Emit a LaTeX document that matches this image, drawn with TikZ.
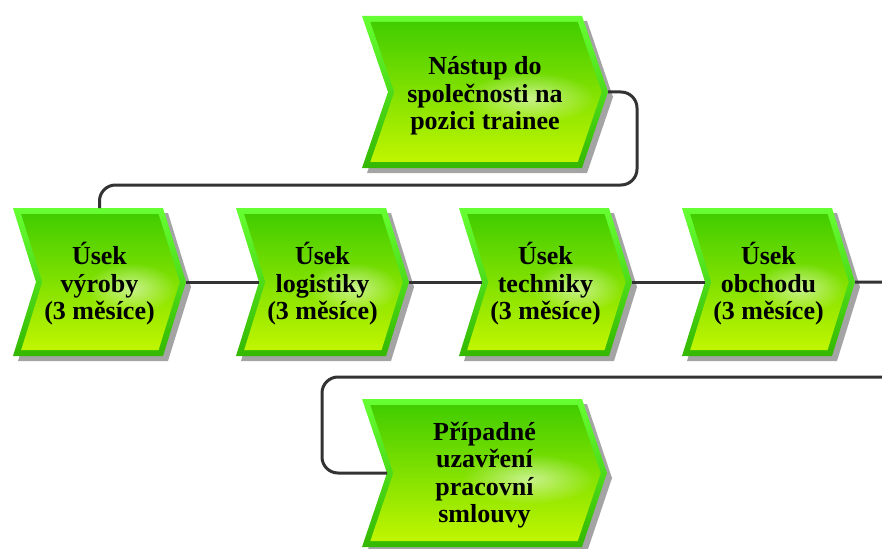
\documentclass[tikz,border=0pt]{standalone}
\usepackage{fontspec}
\setmainfont{Liberation Serif}
\usetikzlibrary{fadings}
\tikzfading[name=glowfade, inner color=transparent!0, outer color=transparent!100]
\definecolor{conncol}{HTML}{333333}
\definecolor{shadowc}{HTML}{A4A4A4}
\definecolor{bevtop}{HTML}{66FF33}
\definecolor{bevbot}{HTML}{34B800}
\definecolor{intop}{HTML}{3CCB00}
\definecolor{inmid}{HTML}{62DA00}
\definecolor{inbot}{HTML}{C6F700}
\tikzset{
  lbl/.style={font=\bfseries\fontsize{26}{27.5}\selectfont, align=center, inner sep=0pt, text=black},
  connector/.style={draw=conncol, line width=3pt, rounded corners=16pt},
}
% #1 name, #2 x0, #3 y0, #4 body width, #5 height, #6 notch/tip depth, #7 text
\newcommand\chev[7]{%
  \pgfmathsetmacro\xa{#2}\pgfmathsetmacro\ya{#3}%
  \pgfmathsetmacro\xb{#2+#4}\pgfmathsetmacro\yb{#3+#5}%
  \pgfmathsetmacro\ym{#3+#5/2}%
  \pgfmathsetmacro\xn{#2+#6}\pgfmathsetmacro\xt{#2+#4+#6}%
  \pgfmathsetmacro\kk{#6*6/(#5/2)}%
  \pgfmathsetmacro\hx{#2+0.68*(#4+#6)}%
  \pgfmathsetmacro\hrx{0.30*#4}\pgfmathsetmacro\hry{0.17*#5}%
  \fill[shadowc] (\xa+5,\ya+5) -- (\xb+5,\ya+5) -- (\xt+5,\ym+5) -- (\xb+5,\yb+5) -- (\xa+5,\yb+5) -- (\xn+5,\ym+5) -- cycle;
  \shade[top color=bevtop, bottom color=bevbot] (\xa,\ya) -- (\xb,\ya) -- (\xt,\ym) -- (\xb,\yb) -- (\xa,\yb) -- (\xn,\ym) -- cycle;
  \begin{scope}
    \path[clip] (\xa+6.3+\kk,\ya+6) -- (\xb-6.3+\kk,\ya+6) -- (\xt-6.3,\ym) -- (\xb-6.3+\kk,\yb-6) -- (\xa+6.3+\kk,\yb-6) -- (\xn+6.3,\ym) -- cycle;
    \shade[top color=intop, middle color=inmid, bottom color=inbot] (\xa,\ya) rectangle (\xt,\yb);
    \fill[white, opacity=0.55, path fading=glowfade] (\hx,\ym+6) ellipse ({\hrx} and {\hry});
  \end{scope}
  \coordinate (#1-in) at (\xn,\ym);
  \coordinate (#1-out) at (\xt,\ym);
  \coordinate (#1-top) at ({(\xa+\xt)/2},\ya);
  \coordinate (#1-c) at ({(\xa+\xt)/2},\ym);
}
\begin{document}
\begin{tikzpicture}[x=1pt,y=-1pt]
  \useasboundingbox (0,0) rectangle (882,548);
  \clip (0,0) rectangle (882,548);
  \chev{s0}{362}{16}{220}{152}{26}{}
  \node[lbl] (t0) at ([yshift=-4pt]s0-c) {Nástup do\\společnosti na\\pozici trainee};
  \chev{s1}{13}{208}{150}{148}{23}{}
  \node[lbl] (t1) at ([yshift=-2pt]s1-c) {Úsek\\výroby\\(3 měsíce)};
  \chev{s2}{236}{208}{150}{148}{23}{}
  \node[lbl] (t2) at ([yshift=-2pt]s2-c) {Úsek\\logistiky\\(3 měsíce)};
  \chev{s3}{459}{208}{150}{148}{23}{}
  \node[lbl] (t3) at ([yshift=-2pt]s3-c) {Úsek\\techniky\\(3 měsíce)};
  \chev{s4}{682}{208}{150}{148}{23}{}
  \node[lbl] (t4) at ([yshift=-2pt]s4-c) {Úsek\\obchodu\\(3 měsíce)};
  \chev{s5}{362}{399}{220}{148}{25}{}
  \node[lbl] (t5) at ([yshift=-2pt]s5-c) {Případné\\uzavření\\pracovní\\smlouvy};
  \coordinate (b1) at (637,92);
  \coordinate (b2) at (637,185);
  \coordinate (b3) at (s1-top |- b2);
  \draw[connector] (s0-out) -- (b1) -- (b2) -- (b3) -- (s1-top);
  \draw[connector] (s1-out) -- (s2-in);
  \draw[connector] (s2-out) -- (s3-in);
  \draw[connector] (s3-out) -- (s4-in);
  \coordinate (c1) at (905,282);
  \coordinate (c2) at (905,377);
  \coordinate (c3) at (322,377);
  \coordinate (c4) at (322,473);
  \draw[connector] (s4-out) -- (c1) -- (c2) -- (c3) -- (c4) -- (s5-in);
\end{tikzpicture}
\end{document}
